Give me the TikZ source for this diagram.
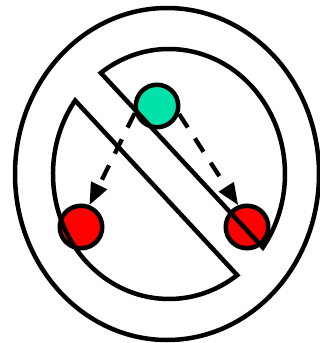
\documentclass[tikz,border=0pt]{standalone}
\usetikzlibrary{arrows.meta}
\definecolor{mint}{RGB}{0,226,170}
\begin{document}
\begin{tikzpicture}[x=1pt,y=-1pt,line width=4.5pt,
  ball/.style={circle,draw,inner sep=0pt,minimum size=42.5pt,line width=4.5pt},
  flow/.style={line width=4.3pt,dash pattern=on 16pt off 13pt,-{Triangle[length=22pt,width=17pt]}},
  half/.style={draw,line join=miter}]
\useasboundingbox (0,0) rectangle (320,343);
\fill[white] (0,0) rectangle (320,343);
\draw (167,174) ellipse [x radius=152, y radius=166];
\node[ball,fill=mint] (g) at (157,106) {};
\node[ball,fill=red] (rl) at (81,227) {};
\node[ball,fill=red] (rr) at (247,227) {};
\draw[flow] (g.198) -- (rl.69);
\draw[flow] (g.-20) -- (rr.112);
\draw[half] (169,174) ++(234:116 and 125) arc[start angle=234,end angle=396,x radius=116,y radius=125] -- cycle;
\draw[half] (169,174) ++(216:116 and 125) arc[start angle=216,end angle=54,x radius=116,y radius=125] -- cycle;
\end{tikzpicture}
\end{document}
